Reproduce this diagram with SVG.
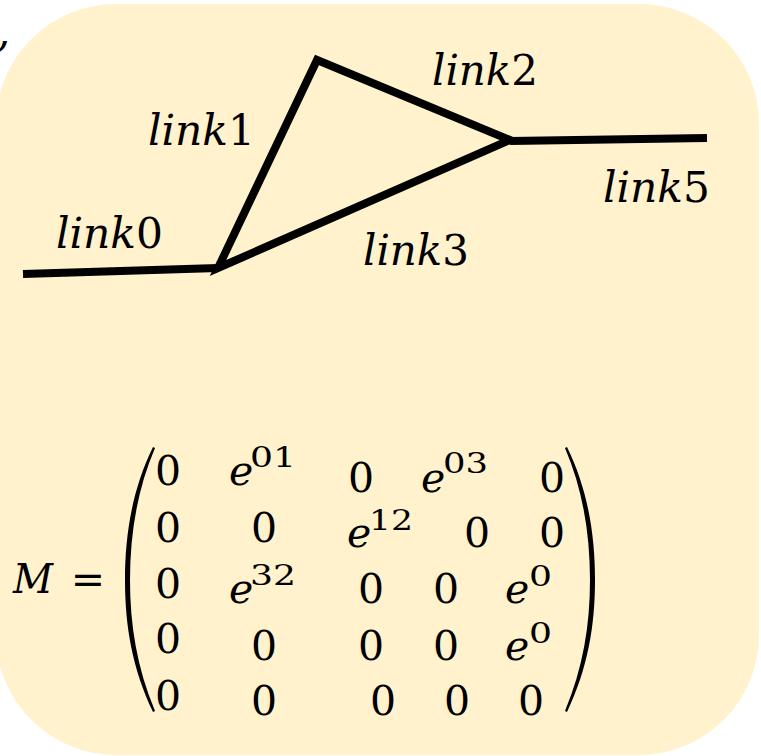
<svg xmlns="http://www.w3.org/2000/svg" width="761" height="756" viewBox="0 0 761 756">
<style>
.bg{fill:#FFF2CC;stroke:none}
.ln{fill:none;stroke:#000;stroke-width:8;stroke-linejoin:miter;stroke-linecap:butt}
.lbl{font-family:"DejaVu Serif",serif;font-size:42px;font-style:italic;fill:#000}
.up{font-style:normal}
.m{font-family:"DejaVu Serif",serif;font-size:41px;fill:#000;text-anchor:middle}
.e{font-family:"DejaVu Serif",serif;font-size:41px;font-style:italic;fill:#000}
.s{font-family:"DejaVu Serif",serif;font-size:28px;fill:#000}
.par{fill:#000}
</style>
<rect class="bg" x="-4" y="4" width="763" height="751" rx="120" ry="120"/>
<text x="-4" y="72" class="lbl" font-size="40">’</text>
<g id="connectors">
<polyline class="ln" points="23,274 218,268"/>
<polygon class="ln" points="218,268 317,60 510,140"/>
<polyline class="ln" points="510,141 707,138"/>
</g>
<g id="labels">
<text class="lbl" x="56" y="248" textLength="107" lengthAdjust="spacingAndGlyphs">link<tspan class="up">0</tspan></text>
<text class="lbl" x="148" y="145" textLength="107" lengthAdjust="spacingAndGlyphs">link<tspan class="up">1</tspan></text>
<text class="lbl" x="432" y="85" textLength="106" lengthAdjust="spacingAndGlyphs">link<tspan class="up">2</tspan></text>
<text class="lbl" x="363" y="265" textLength="106" lengthAdjust="spacingAndGlyphs">link<tspan class="up">3</tspan></text>
<text class="lbl" x="603" y="202" textLength="107" lengthAdjust="spacingAndGlyphs">link<tspan class="up">5</tspan></text>
</g>
<g id="matrix">
<text class="e" x="13" y="593" font-size="44" textLength="40" lengthAdjust="spacingAndGlyphs">M</text>
<text class="m" x="88" y="593" font-size="42">=</text>
<path class="par" d="M153,447 C132,490 125,535 125,580 C125,625 132,668 153,712 L155,711 C137,668 130,625 130,580 C130,535 137,490 155,448 Z"/>
<path class="par" d="M567,447 C588,490 595,535 595,580 C595,625 588,668 567,712 L565,711 C583,668 590,625 590,580 C590,535 583,490 565,448 Z"/>
<!-- row 1 -->
<text class="m" x="168" y="485">0</text>
<text class="e" x="229" y="485">e</text><text class="s" x="250" y="467" textLength="46" lengthAdjust="spacingAndGlyphs">01</text>
<text class="m" x="361" y="492">0</text>
<text class="e" x="421" y="492">e</text><text class="s" x="443" y="473" textLength="45" lengthAdjust="spacingAndGlyphs">03</text>
<text class="m" x="552" y="492">0</text>
<!-- row 2 -->
<text class="m" x="168" y="542">0</text>
<text class="m" x="264" y="542">0</text>
<text class="e" x="347" y="547">e</text><text class="s" x="369" y="530" textLength="44" lengthAdjust="spacingAndGlyphs">12</text>
<text class="m" x="477" y="547">0</text>
<text class="m" x="552" y="547">0</text>
<!-- row 3 -->
<text class="m" x="168" y="598">0</text>
<text class="e" x="229" y="603">e</text><text class="s" x="250" y="585" textLength="46" lengthAdjust="spacingAndGlyphs">32</text>
<text class="m" x="371" y="603">0</text>
<text class="m" x="446" y="603">0</text>
<text class="e" x="505" y="603">e</text><text class="s" x="529" y="586" textLength="23" lengthAdjust="spacingAndGlyphs">0</text>
<!-- row 4 -->
<text class="m" x="168" y="653">0</text>
<text class="m" x="264" y="660">0</text>
<text class="m" x="371" y="660">0</text>
<text class="m" x="446" y="660">0</text>
<text class="e" x="505" y="660">e</text><text class="s" x="529" y="643" textLength="23" lengthAdjust="spacingAndGlyphs">0</text>
<!-- row 5 -->
<text class="m" x="168" y="710">0</text>
<text class="m" x="264" y="715">0</text>
<text class="m" x="383" y="715">0</text>
<text class="m" x="457" y="715">0</text>
<text class="m" x="531" y="715">0</text>
</g>
</svg>
